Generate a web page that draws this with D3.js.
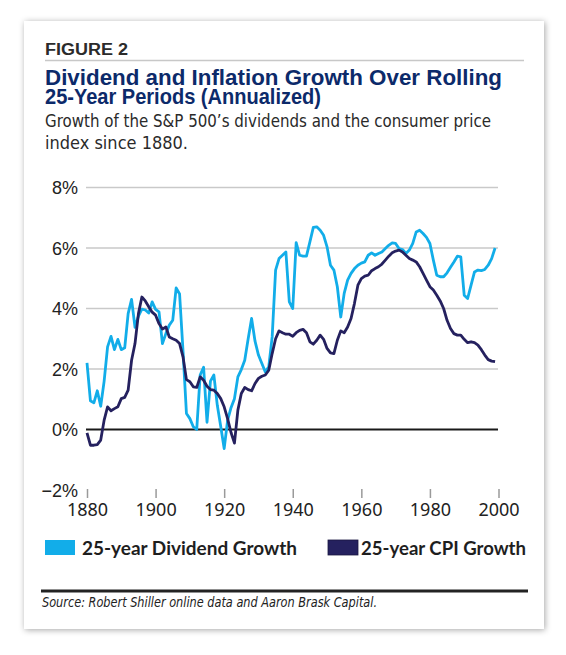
<!DOCTYPE html>
<html>
<head>
<meta charset="utf-8">
<script src="https://cdn.jsdelivr.net/npm/d3@7"></script>
<style>
  html, body { margin: 0; padding: 0; background: #fff; }
  svg { display: block; }
</style>
</head>
<body>
<svg id="chart" width="566" height="655"></svg>
<script>
// years 1880..1999, one value per year (annualized %)
var years = d3.range(1880, 2000);

var dividendGrowth = [
  2.2, 0.95, 0.88, 1.28, 0.77, 1.6, 2.73, 3.08, 2.64, 2.98,
  2.64, 2.7, 3.83, 4.3, 3.38, 3.75, 3.98, 3.95, 3.85, 4.22,
  3.97, 3.89, 2.84, 3.17, 3.45, 3.61, 4.68, 4.48, 2.6, 0.53,
  0.36, 0.09, 0.0, 1.8, 2.06, 0.24, 1.6, 1.8, 0.8, 0.1,
  -0.63, 0.3, 0.72, 1.02, 1.74, 1.98, 2.29, 3.0, 3.67, 2.92,
  2.46, 2.18, 1.9, 2.07, 3.06, 5.27, 5.65, 5.76, 5.87, 4.22,
  4.0, 6.18, 5.76, 5.73, 5.73, 6.2, 6.68, 6.7, 6.59, 6.42,
  6.04, 5.43, 5.27, 4.72, 3.72, 4.5, 4.94, 5.16, 5.32, 5.43,
  5.5, 5.54, 5.76, 5.84, 5.76, 5.82, 5.87, 5.98, 6.09, 6.17,
  6.15, 5.98, 5.95, 5.82, 5.93, 6.15, 6.53, 6.59, 6.48, 6.35,
  6.15, 5.6, 5.1, 5.05, 5.05, 5.18, 5.36, 5.54, 5.73, 5.71,
  4.44, 4.33, 4.77, 5.21, 5.27, 5.25, 5.29, 5.43, 5.65, 6.0
];

var cpiGrowth = [
  -0.11, -0.52, -0.52, -0.5, -0.35, 0.31, 0.75, 0.62, 0.69, 0.75,
  1.02, 1.06, 1.3, 2.29, 2.84, 3.83, 4.38, 4.25, 4.06, 3.88,
  3.78, 3.5, 3.32, 3.39, 3.06, 3.0, 2.95, 2.84, 2.4, 1.65,
  1.58, 1.41, 1.39, 1.74, 1.63, 1.43, 1.32, 1.3, 1.19, 1.02,
  0.75, 0.36, -0.1, -0.45, 0.64, 1.19, 1.39, 1.32, 1.28, 1.52,
  1.69, 1.76, 1.8, 1.96, 2.51, 3.0, 3.26, 3.2, 3.15, 3.15,
  3.08, 3.2, 3.28, 3.31, 3.2, 2.9, 2.82, 2.95, 3.12, 2.98,
  2.68, 2.53, 2.51, 2.95, 3.26, 3.2, 3.39, 3.67, 4.17, 4.77,
  4.99, 5.07, 5.1, 5.25, 5.32, 5.38, 5.47, 5.6, 5.73, 5.84,
  5.9, 5.93, 5.87, 5.76, 5.65, 5.6, 5.54, 5.38, 5.16, 4.94,
  4.72, 4.61, 4.44, 4.25, 4.0, 3.61, 3.34, 3.17, 3.12, 3.12,
  2.98, 2.87, 2.9, 2.87, 2.79, 2.64, 2.46, 2.31, 2.26, 2.24
];

var yTicks = [-2, 0, 2, 4, 6, 8];
var xTicks = [1880, 1900, 1920, 1940, 1960, 1980, 2000];
var seriesNames = ["25-year Dividend Growth", "25-year CPI Growth"];
var seriesColors = ["#12ade9", "#25215f"];

var svg = d3.select('#chart');

// card with drop shadow
var defs = svg.append('defs');
var f = defs.append('filter').attr('id', 'shadow')
  .attr('x', '-10%').attr('y', '-10%').attr('width', '120%').attr('height', '120%');
f.append('feDropShadow').attr('dx', 1).attr('dy', 1).attr('stdDeviation', 3)
  .attr('flood-color', '#000').attr('flood-opacity', 0.35);

svg.append('rect')
  .attr('x', 24).attr('y', 21).attr('width', 520).attr('height', 608)
  .attr('fill', '#fff').attr('filter', 'url(#shadow)');

// header
svg.append('text')
  .attr('x', 45).attr('y', 55)
  .attr('font-family', 'Liberation Sans, Arial, sans-serif')
  .attr('font-weight', 'bold').attr('font-size', 16)
  .attr('fill', '#2b2b2b')
  .attr('textLength', 83).attr('lengthAdjust', 'spacingAndGlyphs')
  .text('FIGURE 2');

svg.append('line')
  .attr('x1', 45).attr('x2', 524).attr('y1', 60.5).attr('y2', 60.5)
  .attr('stroke', '#c8c8c8').attr('stroke-width', 1.5);

var titleLines = [
  { t: 'Dividend and Inflation Growth Over Rolling', y: 84.5, w: 457 },
  { t: '25-Year Periods (Annualized)', y: 103.5, w: 276 }
];
titleLines.forEach(function(l) {
  svg.append('text')
    .attr('x', 45).attr('y', l.y)
    .attr('font-family', 'Liberation Sans, Arial, sans-serif')
    .attr('font-weight', 'bold').attr('font-size', 22)
    .attr('fill', '#0c2a6a')
    .attr('textLength', l.w).attr('lengthAdjust', 'spacingAndGlyphs')
    .text(l.t);
});

var subLines = [
  { t: 'Growth of the S&P 500\u2019s dividends and the consumer price', y: 127, w: 446 },
  { t: 'index since 1880.', y: 148.5, w: 143 }
];
subLines.forEach(function(l) {
  svg.append('text')
    .attr('x', 45).attr('y', l.y)
    .attr('font-family', 'Liberation Sans Narrow, DejaVu Sans Condensed, sans-serif')
    .attr('font-size', 17.5)
    .attr('fill', '#2a2a2a')
    .attr('textLength', l.w).attr('lengthAdjust', 'spacingAndGlyphs')
    .text(l.t);
});

// scales
var x = d3.scaleLinear().domain([1880, 2000]).range([87, 498.5]);
var y = d3.scaleLinear().domain([-2, 8]).range([490, 187.5]);

// gridlines
svg.append('g').selectAll('line')
  .data(yTicks.filter(function(d) { return d > 0; }))
  .enter().append('line')
  .attr('x1', 86).attr('x2', 498)
  .attr('y1', function(d) { return y(d); })
  .attr('y2', function(d) { return y(d); })
  .attr('stroke', '#c9c9c9').attr('stroke-width', 1.3);

// y labels
svg.append('g').selectAll('text')
  .data(yTicks).enter().append('text')
  .attr('x', 78)
  .attr('y', function(d) { return y(d) + 6.5; })
  .attr('text-anchor', 'end')
  .attr('font-family', 'Liberation Sans, Arial, sans-serif')
  .attr('font-size', 18)
  .attr('fill', '#222')
  .text(function(d) { return (d < 0 ? '\u2212' + Math.abs(d) : d) + '%'; });

// x axis ticks and labels
var xAxis = d3.axisBottom(x)
  .tickValues(xTicks)
  .tickFormat(d3.format('d'))
  .tickSize(9)
  .tickPadding(5);
var gx = svg.append('g')
  .attr('transform', 'translate(0,489)')
  .call(xAxis);
gx.select('.domain').remove();
gx.selectAll('.tick line').attr('stroke', '#9a9a9a').attr('stroke-width', 1.5);
gx.selectAll('.tick text')
  .attr('font-family', 'Noto Sans, sans-serif')
  .attr('font-size', 18)
  .attr('fill', '#222');

// zero line
svg.append('line')
  .attr('x1', 86).attr('x2', 498)
  .attr('y1', y(0)).attr('y2', y(0))
  .attr('stroke', '#1a1a1a').attr('stroke-width', 2.2);

// lines
var line = d3.line()
  .x(function(d) { return x(d[0]); })
  .y(function(d) { return y(d[1]); });

[dividendGrowth, cpiGrowth].forEach(function(vals, i) {
  var pts = years.map(function(yr, j) { return [yr, vals[j]]; });
  svg.append('path')
    .datum(pts)
    .attr('d', line)
    .attr('fill', 'none')
    .attr('stroke', seriesColors[i])
    .attr('stroke-width', 2.8)
    .attr('stroke-linejoin', 'round');
});

// legend
var legendPos = [{ x: 45, tx: 82, w: 215 }, { x: 328, tx: 361, w: 165 }];
seriesNames.forEach(function(name, i) {
  svg.append('rect')
    .attr('x', legendPos[i].x).attr('y', 540)
    .attr('width', 30).attr('height', 15)
    .attr('fill', seriesColors[i])
    .attr('stroke', i === 1 ? '#1a1740' : 'none').attr('stroke-width', 0.8);
  svg.append('text')
    .attr('x', legendPos[i].tx).attr('y', 555)
    .attr('font-family', 'Lato, Open Sans, sans-serif')
    .attr('font-weight', 'bold').attr('font-size', 19)
    .attr('fill', '#1e1e1e')
    .attr('textLength', legendPos[i].w).attr('lengthAdjust', 'spacingAndGlyphs')
    .text(name);
});

// source
svg.append('line')
  .attr('x1', 41).attr('x2', 528).attr('y1', 591).attr('y2', 591)
  .attr('stroke', '#232323').attr('stroke-width', 3.2);

svg.append('text')
  .attr('x', 42).attr('y', 607)
  .attr('font-family', 'Liberation Sans Narrow, DejaVu Sans Condensed, sans-serif')
  .attr('font-style', 'italic').attr('font-size', 14)
  .attr('fill', '#222')
  .attr('textLength', 335).attr('lengthAdjust', 'spacingAndGlyphs')
  .text('Source: Robert Shiller online data and Aaron Brask Capital.');
</script>
</body>
</html>
